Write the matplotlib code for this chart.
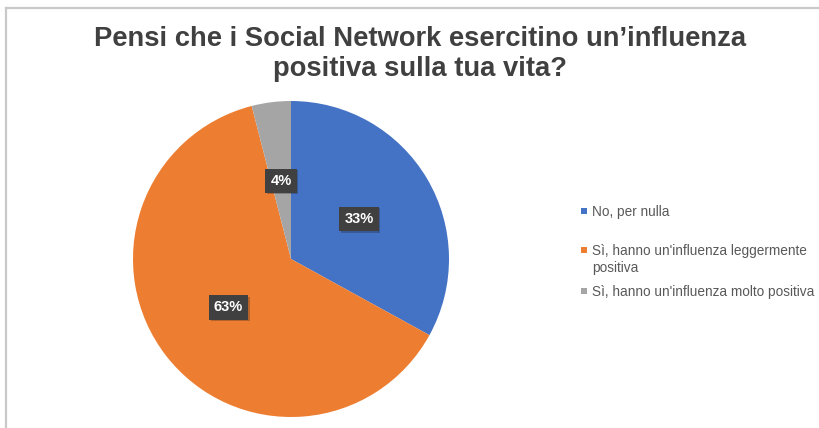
import matplotlib
matplotlib.use("Agg")
import matplotlib.pyplot as plt
import matplotlib.patheffects as pe
from matplotlib.lines import Line2D
from matplotlib.patches import Rectangle

plt.rcParams["font.family"] = ["Liberation Sans", "DejaVu Sans"]

title = "Pensi che i Social Network esercitino un\u2019influenza\npositiva sulla tua vita?"
labels = ["No, per nulla",
          "S\u00ec, hanno un'influenza leggermente\npositiva",
          "S\u00ec, hanno un'influenza molto positiva"]
values = [33, 63, 4]
colors = ["#4472C4", "#ED7D31", "#A5A5A5"]

W, H = 819, 428
fig = plt.figure(figsize=(W / 100, H / 100), dpi=100)
fig.patch.set_facecolor("white")

# light frame of the chart area (only top/left edges visible)
fig.add_artist(Line2D([6 / W, 6 / W], [0, 1 - 8 / H], color="#C9C9C9", lw=1.6))
fig.add_artist(Line2D([6 / W, 1], [1 - 8 / H, 1 - 8 / H], color="#C9C9C9", lw=1.6))

fig.text(420 / W, 1 - 54 / H, title, ha="center", va="center", fontsize=19.7,
         fontweight="bold", color="#404040", linespacing=1.24)

ax = fig.add_axes([133 / W, 11 / H, 316 / W, 316 / H])
wedges, texts, autotexts = ax.pie(values, colors=colors, startangle=90, counterclock=False,
                                  autopct="%1.0f%%", pctdistance=0.5, radius=1,
                                  wedgeprops=dict(linewidth=0))
ax.set_xlim(-1, 1)
ax.set_ylim(-1, 1)
ax.set_aspect("equal")
ax.axis("off")

for t in autotexts:
    t.set_color("white")
    t.set_fontsize(10.5)
    t.set_fontweight("bold")
    t.set_bbox(dict(boxstyle="square,pad=0.35", fc="#404040", ec="none"))
    t.get_bbox_patch().set_path_effects([pe.SimplePatchShadow(offset=(1.2, -1.2), alpha=0.25),
                                         pe.Normal()])

# legend, placed like the Excel one
leg_y = [212, 251, 292]
for lab, col, y in zip(labels, colors, leg_y):
    fig.add_artist(Rectangle((581 / W, 1 - (y + 2) / H), 6 / W, 6 / H, fc=col, ec="none"))
    fig.text(592 / W, 1 - (y - 7) / H, lab, ha="left", va="top", fontsize=9.8,
             color="#595959", linespacing=1.25)

fig.savefig("out.png", dpi=100)
